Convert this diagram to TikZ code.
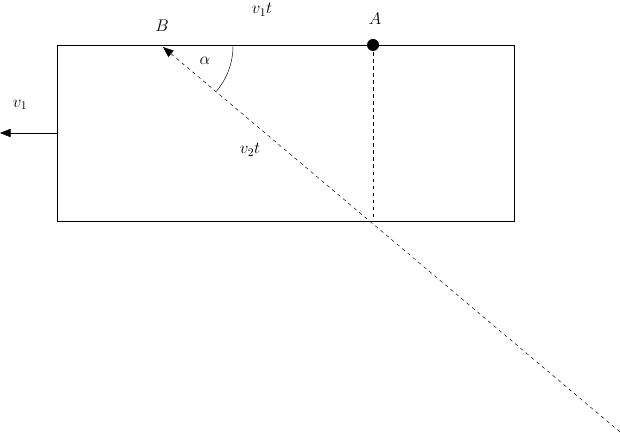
\documentclass[tikz,border=0pt]{standalone}
\usetikzlibrary{arrows.meta}
\begin{document}
\begin{tikzpicture}[x=0.03cm,y=-0.03cm,lbl/.style={inner sep=1pt,font=\Large}]
\useasboundingbox (0,0) rectangle (620,433);
\draw (57,45) rectangle (514,221);
\coordinate (B) at (163,47);
\coordinate (E) at (620,432);
\coordinate (A) at (373,45);
\coordinate (Ab) at (373,221);
\coordinate (L) at (57,133);
\coordinate (L2) at (0,133);
\draw[dashed] (A) -- (Ab);
\draw[dashed,{Triangle[length=9pt,width=7pt]}-] (B) -- (E);
\fill (A) circle (1.8mm);
\draw[-{Triangle[length=9pt,width=7pt]}] (L) -- (L2);
\draw (233,46) arc[start angle=0,end angle=-40,radius=70*0.03cm];
\node[lbl] (nB) at (162,26) {$B$};
\node[lbl] (nA) at (375,19) {$A$};
\node[lbl] (nv1t) at (262,10) {$v_1t$};
\node[lbl] (nv1) at (20,105) {$v_1$};
\node[lbl] (nal) at (205,61) {$\alpha$};
\node[lbl] (nv2t) at (250,150) {$v_2t$};
\end{tikzpicture}
\end{document}
